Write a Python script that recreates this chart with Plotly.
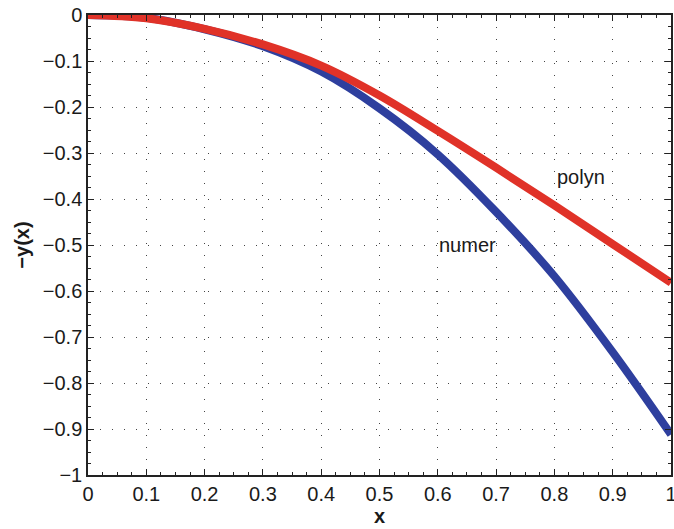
import plotly.graph_objects as go

x_vals = [0.0, 0.1, 0.2, 0.3, 0.4, 0.5, 0.6, 0.7, 0.8, 0.9, 1.0]
numer = [0.0, -0.006, -0.031, -0.068, -0.123, -0.203, -0.303, -0.428, -0.568, -0.733, -0.912]
polyn = [0.0, -0.007, -0.030, -0.064, -0.110, -0.175, -0.252, -0.332, -0.414, -0.498, -0.582]
x_ticks = [0, 0.1, 0.2, 0.3, 0.4, 0.5, 0.6, 0.7, 0.8, 0.9, 1]
x_ticklabels = ["0", "0.1", "0.2", "0.3", "0.4", "0.5", "0.6", "0.7", "0.8", "0.9", "1"]
y_ticks = [0, -0.1, -0.2, -0.3, -0.4, -0.5, -0.6, -0.7, -0.8, -0.9, -1]
y_ticklabels = ["0", "\u22120.1", "\u22120.2", "\u22120.3", "\u22120.4", "\u22120.5",
                "\u22120.6", "\u22120.7", "\u22120.8", "\u22120.9", "\u22121"]

font = "Liberation Sans, Arial, Helvetica, sans-serif"

fig = go.Figure()
fig.add_trace(go.Scatter(x=x_vals, y=numer, mode="lines", name="numer",
                         line=dict(color="#2E3F9E", width=8, shape="spline", smoothing=1.0)))
fig.add_trace(go.Scatter(x=x_vals, y=polyn, mode="lines", name="polyn",
                         line=dict(color="#E03228", width=8, shape="spline", smoothing=1.0)))

fig.add_annotation(x=0.801, y=-0.353, text="polyn", showarrow=False, xanchor="left",
                   yanchor="middle", font=dict(size=20, color="#1a1a1a", family=font))
fig.add_annotation(x=0.599, y=-0.499, text="numer", showarrow=False, xanchor="left",
                   yanchor="middle", font=dict(size=20, color="#1a1a1a", family=font))

axis_common = dict(
    showline=True, linecolor="#222222", linewidth=1.5, mirror="allticks",
    ticks="inside", ticklen=6, tickcolor="#222222", tickwidth=1,
    showgrid=True, gridcolor="#444444", gridwidth=1, griddash="1px,11px",
    zeroline=False, automargin=False, ticklabeloverflow="allow",
    tickfont=dict(size=20, color="#1a1a1a", family=font),
    minor=dict(ticks="inside", ticklen=3, tickcolor="#222222", showgrid=False),
)

fig.update_layout(
    width=674, height=529,
    margin=dict(l=88, r=3, t=15, b=54),
    paper_bgcolor="white", plot_bgcolor="white",
    showlegend=False,
    font=dict(family=font, color="#1a1a1a"),
    xaxis=dict(range=[0, 1], tickvals=x_ticks, ticktext=x_ticklabels,
               title=dict(text="<b>x</b>", font=dict(size=20, family=font), standoff=2),
               minor_dtick=0.025, **axis_common),
    yaxis=dict(range=[-1, 0], tickvals=y_ticks, ticktext=y_ticklabels,
               title=dict(text="<b>\u2212y(x)</b>", font=dict(size=20, family=font), standoff=8),
               minor_dtick=0.025, **axis_common),
)

fig.write_html("out.html", config={"displayModeBar": False},
               post_script="document.body.style.margin='0';document.body.style.overflow='hidden';")
